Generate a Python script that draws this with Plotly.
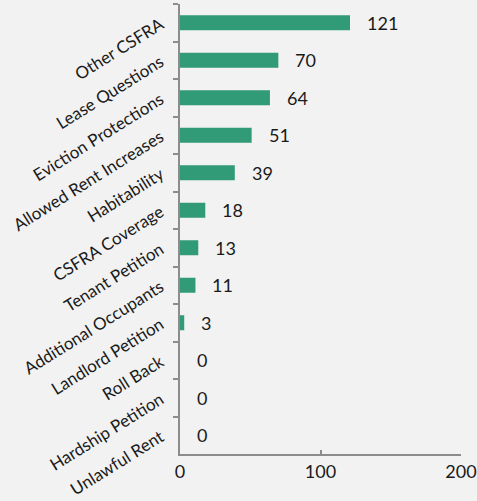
import plotly.graph_objects as go

categories = ["Other CSFRA", "Lease Questions", "Eviction Protections", "Allowed Rent Increases",
              "Habitability", "CSFRA Coverage", "Tenant Petition", "Additional Occupants",
              "Landlord Petition", "Roll Back", "Hardship Petition", "Unlawful Rent"]
values = [121, 70, 64, 51, 39, 18, 13, 11, 3, 0, 0, 0]
x_ticks = [0, 100, 200]

font = "Lato"
fig = go.Figure()
fig.add_trace(go.Bar(
    x=values, y=categories, orientation="h",
    marker=dict(color="#319a76", line=dict(width=0)),
    width=0.4, hoverinfo="skip",
))
for c, v in zip(categories, values):
    fig.add_annotation(x=v, y=c, text=str(v), showarrow=False, xanchor="left",
                       xshift=15, font=dict(family=font, size=18, color="#1a1a1a"))

fig.update_layout(
    width=477, height=501,
    margin=dict(l=180, r=16, t=4, b=47),
    paper_bgcolor="#f2f2f2", plot_bgcolor="#f2f2f2",
    showlegend=False,
    font=dict(family=font, size=17, color="#1a1a1a"),
)
fig.update_xaxes(range=[0, 200], tickvals=x_ticks, showgrid=False, zeroline=False,
                 showline=True, linecolor="#8c8c8c", linewidth=2,
                 ticks="inside", ticklen=4, tickcolor="#8c8c8c", tickwidth=2,
                 tickfont=dict(size=18), automargin=False)
fig.update_yaxes(categoryorder="array", categoryarray=categories, autorange="reversed",
                 showgrid=False, zeroline=False, showline=True, linecolor="#8c8c8c", linewidth=2,
                 ticks="outside", ticklen=5, tickcolor="#8c8c8c", tickwidth=2,
                 tickson="boundaries", tickangle=-32, ticklabelstandoff=14, automargin=False)
fig.write_html("out.html", config={"displayModeBar": False},
               post_script="document.body.style.margin='0';")
